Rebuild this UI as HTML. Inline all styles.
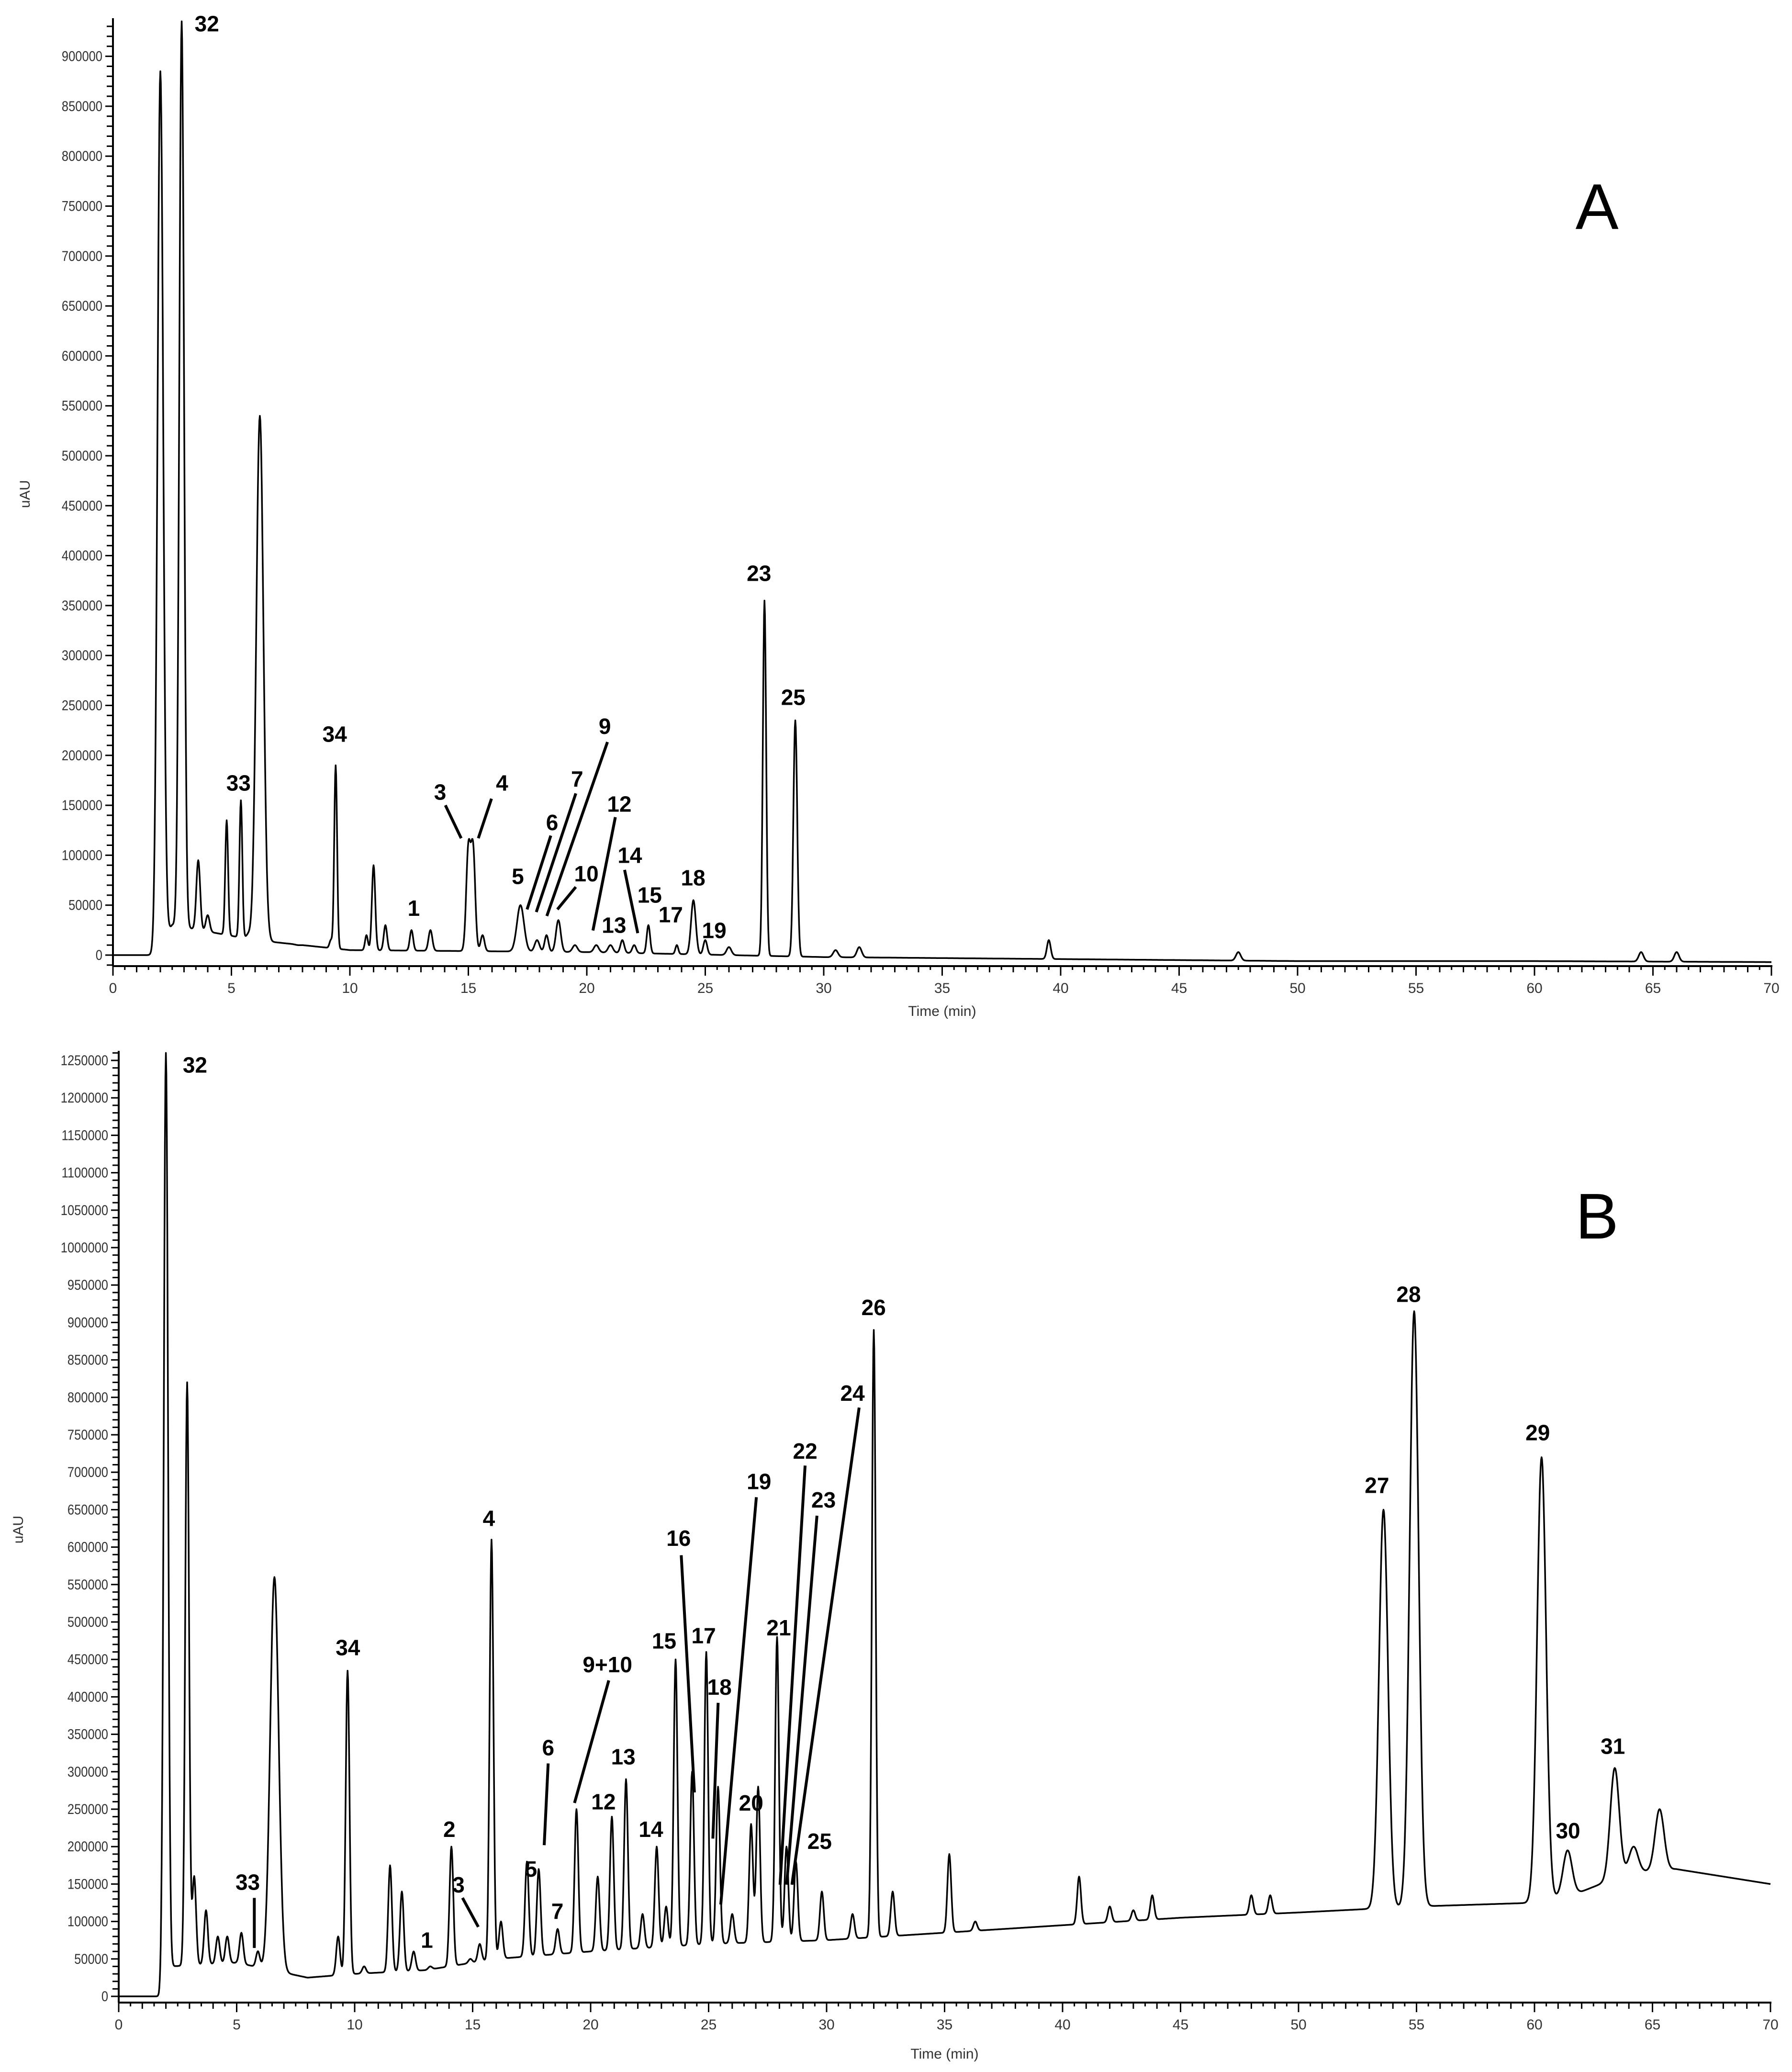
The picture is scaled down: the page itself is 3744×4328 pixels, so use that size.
<!DOCTYPE html>
<html><head><meta charset="utf-8"><style>
html,body{margin:0;padding:0;background:#fff}
svg{display:block}
.tl{font-family:"Liberation Sans",sans-serif;font-size:30px;fill:#333}
.pl{font-family:"Liberation Sans",sans-serif;font-size:46px;font-weight:bold;fill:#000}
</style></head><body>
<svg id="chart" width="3744" height="4328" viewBox="0 0 3744 4328" xmlns="http://www.w3.org/2000/svg"></svg>
<script>
// Panel A data
const peakTimesA=[2.0,2.9,3.6,4.0,4.8,5.4,5.7,6.2,7.8,9.2,9.4,10.7,11.0,11.5,12.6,13.4,15.0,15.2,15.6,17.2,17.9,18.3,18.8,19.5,20.4,21.0,21.5,22.0,22.6,23.8,24.5,25.0,26.0,27.5,28.8,30.5,31.5,39.5,47.5,64.5,66.0];
const peakHeightsA=[885000,935000,95000,40000,135000,155000,20000,540000,10000,15000,190000,20000,90000,30000,25000,25000,105000,105000,20000,50000,15000,20000,35000,10000,10000,10000,15000,10000,30000,10000,55000,15000,8000,355000,235000,5000,8000,15000,3000,3000,3000];
const peakWidthsA=[0.12,0.1,0.08,0.08,0.06,0.06,0.08,0.15,0.1,0.06,0.06,0.06,0.07,0.07,0.07,0.08,0.09,0.09,0.08,0.15,0.1,0.08,0.1,0.1,0.1,0.1,0.08,0.08,0.07,0.06,0.1,0.08,0.1,0.07,0.08,0.1,0.1,0.08,0.1,0.1,0.1];
const baseTA=[0,1.7,2.5,6,10,20,30,40,50,60,70];
const baseVA=[0,0,30000,15000,5000,3000,-2000,-4000,-6000,-6000,-7000];
// Panel B data
const peakTimesB=[2.0,2.9,3.2,3.7,4.2,4.6,5.2,5.9,6.6,9.3,9.7,10.4,11.5,12.0,12.5,13.2,14.1,14.9,15.3,15.8,16.2,17.3,17.8,18.6,19.4,20.3,20.9,21.5,22.2,22.8,23.2,23.6,24.3,24.9,25.4,26.0,26.8,27.1,27.9,28.3,28.7,29.8,31.1,32.0,32.8,35.2,36.3,40.7,42.0,43.0,43.8,48.0,48.8,53.6,54.9,60.3,61.4,63.4,64.2,65.3];
const peakHeightsB=[1260000,820000,160000,115000,80000,80000,85000,60000,560000,80000,435000,40000,175000,140000,60000,40000,200000,50000,70000,610000,100000,180000,170000,90000,250000,160000,240000,290000,110000,200000,120000,450000,300000,460000,280000,110000,230000,280000,480000,200000,180000,140000,110000,890000,140000,190000,100000,160000,120000,115000,135000,135000,135000,650000,915000,720000,195000,305000,200000,250000];
const baseTB=[0,1.7,2.2,5,8,10,13,16,20,25,30,35,40,45,50,55,60,62,64,66,70];
const baseVB=[0,0,40000,45000,25000,30000,35000,50000,60000,70000,75000,85000,95000,105000,112000,120000,125000,140000,165000,170000,150000];
const xTicks=[0,5,10,15,20,25,30,35,40,45,50,55,60,65,70];

const NS="http://www.w3.org/2000/svg";
const svg=document.getElementById('chart');
function mk(tag,attrs,parent){const e=document.createElementNS(NS,tag);for(const k in attrs)e.setAttribute(k,attrs[k]);(parent||svg).appendChild(e);return e;}
function interp(ts,vs,t){if(t<=ts[0])return vs[0];for(let i=1;i<ts.length;i++){if(t<=ts[i]){const f=(t-ts[i-1])/(ts[i]-ts[i-1]);return vs[i-1]+f*(vs[i]-vs[i-1]);}}return vs[vs.length-1];}

function panel(P){
  const g=mk('g',{});
  
  
  const xs=t=>P.x0+t*P.kx;
  const ys=v=>P.y0-v*P.ky;
  const ya=mk('line',{x1:P.x0,y1:P.top,x2:P.x0,y2:P.axisY,stroke:'#000','stroke-width':4},g);
  
  
  for(let v=-10000;v<=P.ymax;v+=10000){
    const y=ys(v); if(y<P.top-2||y>P.axisY)continue;
    const major=v%50000===0;
    mk('line',{x1:P.x0-(major?16:13),y1:y,x2:P.x0,y2:y,stroke:'#000','stroke-width':3},g);
    if(major&&v>=0){const t=mk('text',{x:P.x0-22,y:y+10,'text-anchor':'end',class:'tl',transform:`translate(${P.x0-22} 0) scale(0.85 1) translate(${-(P.x0-22)} 0)`},g);t.textContent=v;
      
      }
  }
  const xa=mk('line',{x1:P.x0,y1:P.axisY,x2:xs(70)+2,y2:P.axisY,stroke:'#000','stroke-width':4},g);
  
  
  for(let i=0;i<=140;i++){const t=i/2;const x=xs(t);
    const len=i%10===0?20:(i%2===0?13:8);
    mk('line',{x1:x,y1:P.axisY,x2:x,y2:P.axisY+len,stroke:'#000','stroke-width':3},g);}
  xTicks.forEach(t=>{const e=mk('text',{x:xs(t),y:P.axisY+56,'text-anchor':'middle',class:'tl'},g);e.textContent=t;
    
    });
  const xl=mk('text',{x:xs(35),y:P.xlabY,'text-anchor':'middle',class:'tl'},g);xl.textContent='Time (min)';
  
  
  const yl=mk('text',{x:P.ylabX,y:P.ylabY,'text-anchor':'middle',class:'tl',transform:`rotate(-90 ${P.ylabX} ${P.ylabY})`},g);yl.textContent='uAU';
  
  
  let d='';
  for(let t=0;t<=70.001;t+=0.02){
    let v=interp(P.bt,P.bv,t);
    for(let i=0;i<P.pt.length;i++){
      const amp=P.ph[i]-interp(P.bt,P.bv,P.pt[i]);
      const w=P.pw?P.pw[i]:P.defW(P.pt[i]);
      const z=(t-P.pt[i])/w; if(Math.abs(z)<6)v+=amp*Math.exp(-0.5*z*z);
    }
    const y=Math.max(ys(v),P.top);
    d+=(d?'L':'M')+xs(t).toFixed(1)+' '+y.toFixed(1);
  }
  const tr=mk('path',{d:d,fill:'none',stroke:'#000','stroke-width':3.5,'stroke-linejoin':'round'},g);
  
  
  const s=2.753;
  P.labels.forEach(l=>{const e=mk('text',{x:l[1]*s,y:l[2]*s+16,'text-anchor':'middle',class:'pl'},g);e.textContent=l[0];
    
    });
  P.leaders.forEach(l=>{const e=mk('line',{x1:l[0]*s,y1:l[1]*s,x2:l[2]*s,y2:l[3]*s,stroke:'#000','stroke-width':6},g);
    
    });
  const L=mk('text',{x:P.letter[1]*s,y:P.letter[2]*s+46,'text-anchor':'middle','font-family':'Liberation Sans, sans-serif','font-size':135,fill:'#000'},g);L.textContent=P.letter[0];
  
  
}

panel({name:'panel-a',x0:236,kx:49.5,y0:1995,ky:104.3/50000,top:38,axisY:2018,ymax:930000,xlabY:2122,ylabX:62,ylabY:1032,
  pt:peakTimesA,ph:peakHeightsA,pw:peakWidthsA,bt:baseTA,bv:baseVA,
  labels:[['32',157,18],['33',181,594],['34',254,557],['1',314,689],['3',334,601],['4',381,594],['5',393,665],['6',419,624],['7',438,591],['9',459,551],['10',445,663],['12',470,610],['13',466,702],['14',478,649],['15',493,679],['17',509,694],['18',526,666],['19',542,706],['23',576,435],['25',602,529]],
  leaders:[[338,611,350,636],[373,606,363,636],[418,634,400,690],[437,602,407,692],[461,563,415,695],[437,673,423,690],[467,620,450,706],[474,660,484,708]],
  letter:['A',1212,157]});

panel({name:'panel-b',x0:248,kx:49.3,y0:4170,ky:78.2/50000,top:2195,axisY:4183,ymax:1260000,xlabY:4300,ylabX:48,ylabY:3195,
  pt:peakTimesB,ph:peakHeightsB,pw:null,defW:t=>t>50?0.19:(t>6&&t<7?0.18:(t<2.5?0.09:0.08)),bt:baseTB,bv:baseVB,
  labels:[['32',148,808],['33',188,1428],['34',264,1250],['1',324,1472],['2',341,1388],['3',348,1430],['4',371,1152],['5',403,1418],['6',416,1326],['7',423,1450],['9+10',461,1263],['12',458,1367],['13',473,1333],['14',494,1388],['15',504,1245],['16',515,1167],['17',534,1241],['18',546,1280],['19',576,1124],['20',570,1368],['21',591,1235],['22',611,1101],['23',625,1138],['24',647,1057],['25',622,1397],['26',663,992],['27',1045,1127],['28',1069,982],['29',1167,1087],['30',1190,1389],['31',1224,1325]],
  leaders:[[193,1440,193,1478],[351,1440,363,1462],[416,1338,413,1400],[462,1275,436,1368],[517,1180,527,1360],[545,1292,541,1395],[574,1136,547,1445],[611,1112,592,1430],[620,1150,597,1430],[652,1068,601,1430]],
  letter:['B',1212,923]});
</script>
</body></html>
